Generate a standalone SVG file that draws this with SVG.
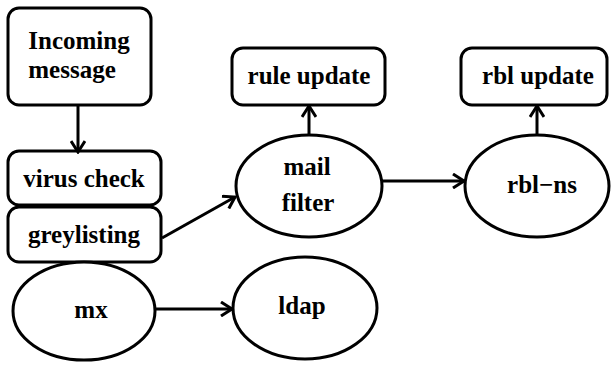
<svg xmlns="http://www.w3.org/2000/svg" width="611" height="366" viewBox="0 0 611 366">
<defs>
<marker id="arr" markerWidth="14" markerHeight="16" refX="12" refY="8" orient="auto" markerUnits="userSpaceOnUse">
<path d="M1,1 L12,8 L1,15" fill="none" stroke="#000" stroke-width="3"/>
</marker>
</defs>
<style>
.n{fill:#fff;stroke:#000;stroke-width:3}
.c{stroke:#000;stroke-width:3;fill:none;marker-end:url(#arr)}
</style>
<rect width="611" height="366" fill="#fff"/>
<g id="incoming"><rect class="n" x="8" y="8" width="143" height="97" rx="11"/><text x="79" y="49" style="font-family:'Liberation Serif','Times New Roman',serif;font-weight:bold;font-size:25px" text-anchor="middle">Incoming</text><text x="72" y="78" style="font-family:'Liberation Serif','Times New Roman',serif;font-weight:bold;font-size:25px" text-anchor="middle">message</text></g>
<g id="virus"><rect class="n" x="8" y="151" width="153" height="54" rx="11"/><text x="84" y="187" style="font-family:'Liberation Serif','Times New Roman',serif;font-weight:bold;font-size:25px" text-anchor="middle">virus check</text></g>
<g id="grey"><rect class="n" x="8" y="207" width="153" height="55" rx="11"/><text x="84" y="243" style="font-family:'Liberation Serif','Times New Roman',serif;font-weight:bold;font-size:25px" text-anchor="middle">greylisting</text></g>
<g id="mx"><ellipse class="n" cx="84" cy="311" rx="71" ry="49"/><text x="91" y="318" style="font-family:'Liberation Serif','Times New Roman',serif;font-weight:bold;font-size:25px" text-anchor="middle">mx</text></g>
<g id="ldap"><ellipse class="n" cx="305" cy="308" rx="72" ry="51"/><text x="302" y="314" style="font-family:'Liberation Serif','Times New Roman',serif;font-weight:bold;font-size:25px" text-anchor="middle">ldap</text></g>
<g id="mailfilter"><ellipse class="n" cx="309" cy="186" rx="73" ry="51"/><text x="307" y="175" style="font-family:'Liberation Serif','Times New Roman',serif;font-weight:bold;font-size:25px" text-anchor="middle">mail</text><text x="308" y="211" style="font-family:'Liberation Serif','Times New Roman',serif;font-weight:bold;font-size:25px" text-anchor="middle">filter</text></g>
<g id="ruleupdate"><rect class="n" x="232" y="48" width="153" height="57" rx="11"/><text x="309" y="84" style="font-family:'Liberation Serif','Times New Roman',serif;font-weight:bold;font-size:25px" text-anchor="middle">rule update</text></g>
<g id="rblns"><ellipse class="n" cx="537" cy="186" rx="72" ry="51"/><text x="542" y="193" style="font-family:'Liberation Serif','Times New Roman',serif;font-weight:bold;font-size:25px" text-anchor="middle">rbl−ns</text></g>
<g id="rblupdate"><rect class="n" x="461" y="48" width="146" height="57" rx="11"/><text x="538" y="84" style="font-family:'Liberation Serif','Times New Roman',serif;font-weight:bold;font-size:25px" text-anchor="middle">rbl update</text></g>
<g id="connectors">
<line class="c" x1="78" y1="105" x2="78" y2="152"/>
<line class="c" x1="162" y1="238" x2="235" y2="197"/>
<line class="c" x1="155" y1="309" x2="232" y2="309"/>
<line class="c" x1="309" y1="135" x2="309" y2="106"/>
<line class="c" x1="382" y1="181" x2="464" y2="181"/>
<line class="c" x1="537" y1="135" x2="537" y2="106"/>
</g>
</svg>
